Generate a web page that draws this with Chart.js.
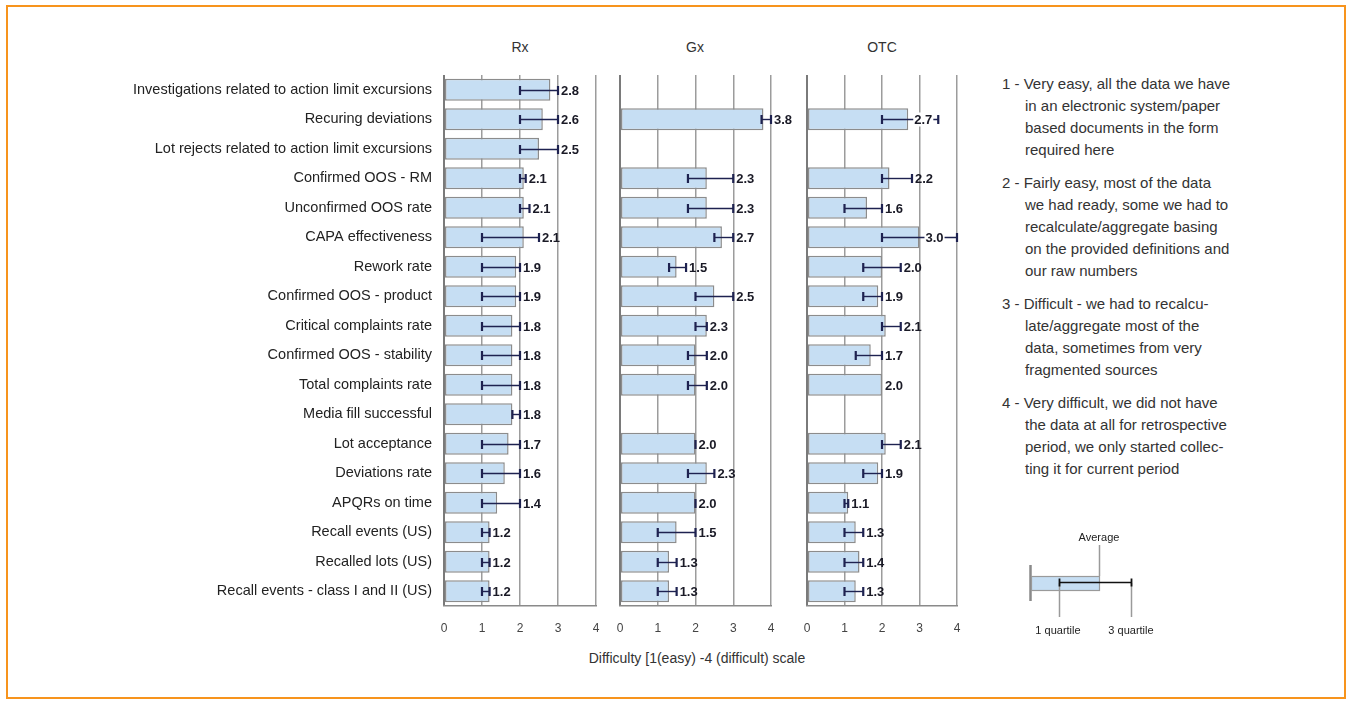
<!DOCTYPE html>
<html>
<head>
<meta charset="utf-8">
<script src="https://cdn.jsdelivr.net/npm/chart.js@4.4.1/dist/chart.umd.min.js"></script>
<style>
  html, body { margin: 0; padding: 0; background: #fff; }
  body { width: 1351px; height: 704px; position: relative; overflow: hidden;
         font-family: "Liberation Sans", Arial, sans-serif; color: #333; }
  .frame { position: absolute; left: 6px; top: 5px; width: 1336px; height: 690px;
           border: 2px solid #f7941d; box-sizing: content-box; }
  .panel { position: absolute; top: 75px; height: 571px; }
  .ptitle { position: absolute; top: 39px; font-size: 14px; line-height: 16px;
            transform: translateX(-50%); white-space: nowrap; }
  .xtitle { position: absolute; top: 650px; left: 697px; font-size: 14px; line-height: 16px;
            transform: translateX(-50%); white-space: nowrap; }
  .notes { position: absolute; left: 1002px; top: 73px; width: 345px; font-size: 15px;
           line-height: 22px; color: #333; }
  .notes p { margin: 0 0 11px 0; padding-left: 23px; text-indent: -23px; }
  .key { position: absolute; left: 0; top: 0; }
</style>
</head>
<body>
<div class="frame"></div>

<div class="ptitle" style="left:520px">Rx</div>
<div class="ptitle" style="left:695px">Gx</div>
<div class="ptitle" style="left:882px">OTC</div>

<div class="panel" style="left:110px;width:498px"><canvas id="rx"></canvas></div>
<div class="panel" style="left:610px;width:191px"><canvas id="gx"></canvas></div>
<div class="panel" style="left:797px;width:168px"><canvas id="otc"></canvas></div>

<div class="xtitle">Difficulty [1(easy) -4 (difficult) scale</div>

<div class="notes">
  <p>1 - Very easy, all the data we have<br>in an electronic system/paper<br>based documents in the form<br>required here</p>
  <p>2 - Fairly easy, most of the data<br>we had ready, some we had to<br>recalculate/aggregate basing<br>on the provided definitions and<br>our raw numbers</p>
  <p>3 - Difficult - we had to recalcu-<br>late/aggregate most of the<br>data, sometimes from very<br>fragmented sources</p>
  <p>4 - Very difficult, we did not have<br>the data at all for retrospective<br>period, we only started collec-<br>ting it for current period</p>
</div>

<!-- key explaining bar = average, whisker = quartile range -->
<svg class="key" width="1351" height="704" xmlns="http://www.w3.org/2000/svg">
  <line x1="1030.5" y1="565" x2="1030.5" y2="601" stroke="#8a8a8a" stroke-width="2.5"/>
  <rect x="1031.5" y="576.5" width="68" height="14" fill="#c6def3" stroke="#9a9a9a" stroke-width="1.2"/>
  <line x1="1099.5" y1="545" x2="1099.5" y2="576" stroke="#9a9a9a" stroke-width="1.5"/>
  <line x1="1059.5" y1="583" x2="1059.5" y2="617" stroke="#9a9a9a" stroke-width="1.5"/>
  <line x1="1131.5" y1="583" x2="1131.5" y2="617" stroke="#9a9a9a" stroke-width="1.5"/>
  <line x1="1059" y1="582.5" x2="1132" y2="582.5" stroke="#111" stroke-width="1.6"/>
  <line x1="1059.5" y1="578.5" x2="1059.5" y2="586.5" stroke="#111" stroke-width="1.8"/>
  <line x1="1131.5" y1="578.5" x2="1131.5" y2="586.5" stroke="#111" stroke-width="1.8"/>
  <text x="1099" y="541" font-size="11" text-anchor="middle" fill="#222" font-family="Liberation Sans, Arial, sans-serif">Average</text>
  <text x="1058" y="634" font-size="11" text-anchor="middle" fill="#222" font-family="Liberation Sans, Arial, sans-serif">1 quartile</text>
  <text x="1131" y="634" font-size="11" text-anchor="middle" fill="#222" font-family="Liberation Sans, Arial, sans-serif">3 quartile</text>
</svg>

<script>
// Indicators, top to bottom
const categories = [
  "Investigations related to action limit excursions",
  "Recuring deviations",
  "Lot rejects related to action limit excursions",
  "Confirmed OOS - RM",
  "Unconfirmed OOS rate",
  "CAPA effectiveness",
  "Rework rate",
  "Confirmed OOS - product",
  "Critical complaints rate",
  "Confirmed OOS - stability",
  "Total complaints rate",
  "Media fill successful",
  "Lot acceptance",
  "Deviations rate",
  "APQRs on time",
  "Recall events (US)",
  "Recalled lots (US)",
  "Recall events - class I and II (US)"
];

// Average difficulty and 1st / 3rd quartile per segment
const rxAvg = [2.8, 2.6, 2.5, 2.1, 2.1, 2.1, 1.9, 1.9, 1.8, 1.8, 1.8, 1.8, 1.7, 1.6, 1.4, 1.2, 1.2, 1.2];
const rxQ1  = [2.0, 2.0, 2.0, 2.0, 2.0, 1.0, 1.0, 1.0, 1.0, 1.0, 1.0, 1.8, 1.0, 1.0, 1.0, 1.0, 1.0, 1.0];
const rxQ3  = [3.0, 3.0, 3.0, 2.15, 2.25, 2.5, 2.0, 2.0, 2.0, 2.0, 2.0, 2.0, 2.0, 2.0, 2.0, 1.2, 1.2, 1.2];

const gxAvg = [null, 3.8, null, 2.3, 2.3, 2.7, 1.5, 2.5, 2.3, 2.0, 2.0, null, 2.0, 2.3, 2.0, 1.5, 1.3, 1.3];
const gxQ1  = [null, 3.75, null, 1.8, 1.8, 2.5, 1.3, 2.0, 2.0, 1.8, 1.8, null, 2.0, 1.8, 2.0, 1.0, 1.0, 1.0];
const gxQ3  = [null, 4.0, null, 3.0, 3.0, 3.0, 1.75, 3.0, 2.3, 2.3, 2.3, null, 2.0, 2.5, 2.0, 2.0, 1.5, 1.5];

const otcAvg = [null, 2.7, null, 2.2, 1.6, 3.0, 2.0, 1.9, 2.1, 1.7, 2.0, null, 2.1, 1.9, 1.1, 1.3, 1.4, 1.3];
const otcQ1  = [null, 2.0, null, 2.0, 1.0, 2.0, 1.5, 1.5, 2.0, 1.3, null, null, 2.0, 1.5, 1.0, 1.0, 1.0, 1.0];
const otcQ3  = [null, 3.5, null, 2.8, 2.0, 4.0, 2.5, 2.0, 2.5, 2.0, null, null, 2.5, 2.0, 1.1, 1.5, 1.5, 1.5];

const xTicks = [0, 1, 2, 3, 4];

const FONT = '"Liberation Sans", Arial, sans-serif';

// Draws the quartile whisker and the value label for every bar
function whiskerPlugin(avg, q1, q3, labelRoom) {
  return {
    id: 'whiskers',
    afterDatasetsDraw(chart) {
      const ctx = chart.ctx;
      const xs = chart.scales.x;
      const meta = chart.getDatasetMeta(0);
      ctx.save();
      ctx.font = 'bold 13px ' + FONT;
      ctx.textBaseline = 'middle';
      meta.data.forEach((bar, i) => {
        const v = avg[i];
        if (v == null) return;
        const y = Math.round(bar.y) + 0.5;
        const barEnd = xs.getPixelForValue(v);
        let right = barEnd;
        if (q1[i] != null && q3[i] != null) {
          const a = xs.getPixelForValue(q1[i]);
          const b = xs.getPixelForValue(q3[i]);
          ctx.strokeStyle = '#1e2250';
          ctx.lineWidth = 1.4;
          ctx.beginPath(); ctx.moveTo(a, y); ctx.lineTo(b, y); ctx.stroke();
          ctx.lineWidth = 2.2;
          ctx.beginPath();
          ctx.moveTo(a, y - 4.5); ctx.lineTo(a, y + 4.5);
          ctx.moveTo(b, y - 4.5); ctx.lineTo(b, y + 4.5);
          ctx.stroke();
          right = Math.max(right, b);
        }
        const txt = v.toFixed(1);
        const w = ctx.measureText(txt).width;
        let x = right + 3;
        if (x + w > xs.right + labelRoom) {
          x = barEnd + 6;
          ctx.fillStyle = '#fff';
          ctx.fillRect(x - 1, y - 7, w + 2, 14);
        }
        ctx.fillStyle = '#1a1a26';
        ctx.fillText(txt, x, y + 1);
      });
      ctx.restore();
    }
  };
}

function makePanel(id, avg, q1, q3, opts) {
  new Chart(document.getElementById(id), {
    type: 'bar',
    data: {
      labels: categories,
      datasets: [{
        data: avg,
        backgroundColor: '#c6def3',
        borderColor: '#8c8c8c',
        borderWidth: 1.5,
        borderSkipped: false,
        barPercentage: 0.75,
        categoryPercentage: 1.0
      }]
    },
    options: {
      indexAxis: 'y',
      responsive: true,
      maintainAspectRatio: false,
      animation: false,
      layout: { padding: { left: 0, right: opts.padRight, top: 0, bottom: 0 } },
      plugins: { legend: { display: false }, tooltip: { enabled: false } },
      scales: {
        x: {
          type: 'linear',
          min: xTicks[0],
          max: xTicks[xTicks.length - 1],
          afterBuildTicks: s => { s.ticks = xTicks.map(v => ({ value: v })); },
          ticks: { color: '#444', font: { family: FONT, size: 12 }, padding: 15, maxRotation: 0 },
          grid: {
            drawTicks: false,
            color: c => (c.tick && c.tick.value === 0) ? '#7a7a7a' : '#9c9c9c',
            lineWidth: c => (c.tick && c.tick.value === 0) ? 2 : 1.5
          },
          border: { display: true, color: '#8a8a8a', width: 1.5 },
          afterFit: s => { s.height = 40; s.paddingLeft = 0; s.paddingRight = 0; }
        },
        y: {
          type: 'category',
          ticks: {
            display: opts.showLabels,
            color: '#222',
            font: { family: FONT, size: 14.5 },
            padding: 12,
            autoSkip: false
          },
          grid: { display: false, drawTicks: false },
          border: { display: false },
          afterFit: s => { s.width = opts.yWidth; s.paddingTop = 0; s.paddingBottom = 0; }
        }
      }
    },
    plugins: [whiskerPlugin(avg, q1, q3, opts.labelRoom)]
  });
}

makePanel('rx',  rxAvg,  rxQ1,  rxQ3,  { showLabels: true,  yWidth: 334, padRight: 12, labelRoom: 30 });
makePanel('gx',  gxAvg,  gxQ1,  gxQ3,  { showLabels: false, yWidth: 10,  padRight: 30, labelRoom: 30 });
makePanel('otc', otcAvg, otcQ1, otcQ3, { showLabels: false, yWidth: 10,  padRight: 8,  labelRoom: 0 });
</script>
</body>
</html>
